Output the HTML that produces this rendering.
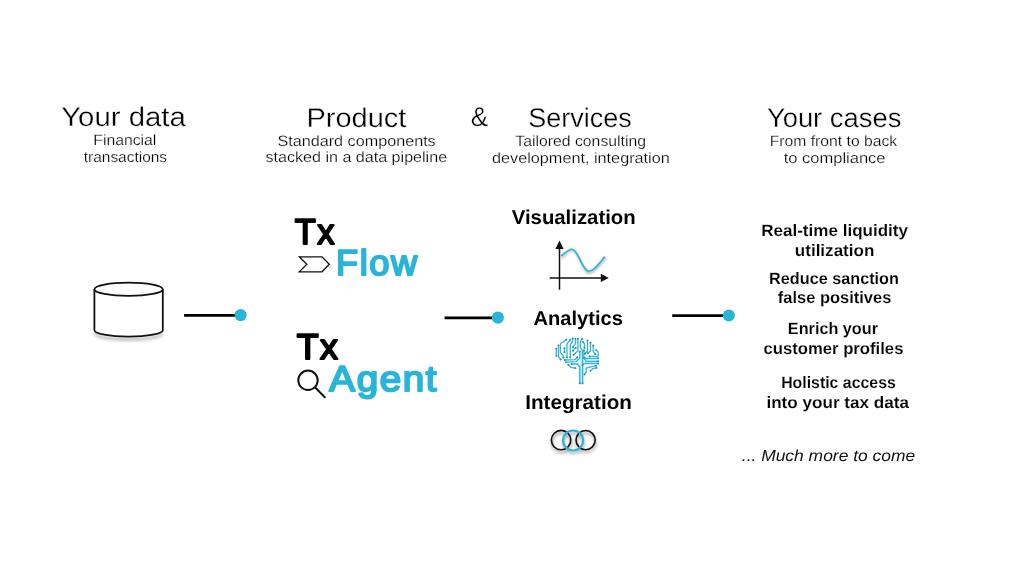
<!DOCTYPE html>
<html><head><meta charset="utf-8"><style>
html,body{margin:0;padding:0;background:#fff;}
body{width:1024px;height:562px;overflow:hidden;}
svg{display:block;will-change:transform;}
text{font-family:"Liberation Sans",sans-serif;text-rendering:geometricPrecision;}
</style></head><body>
<svg width="1024" height="562" viewBox="0 0 1024 562">
<rect width="1024" height="562" fill="#fff"/>
<defs>
<filter id="blur1" x="-30%" y="-50%" width="160%" height="200%"><feGaussianBlur stdDeviation="1.5"/></filter>
<filter id="blur2" x="-30%" y="-50%" width="160%" height="200%"><feGaussianBlur stdDeviation="1"/></filter>
</defs>
<!-- database cylinder -->
<path d="M94.5,331 A34.2,6.5 0 0 0 162.7,331" stroke="#000" stroke-opacity="0.25" stroke-width="3" fill="none" filter="url(#blur1)" transform="translate(0,2.5)"/>
<g stroke="#111" stroke-width="1.8" fill="#fff">
<path d="M94.4,289.2 L94.4,330.2 A34.2,6.4 0 0 0 162.8,330.2 L162.8,289.2" />
<ellipse cx="128.6" cy="289.2" rx="34.2" ry="6.6"/>
</g>
<!-- connector lines -->
<g stroke="#000" stroke-width="2.7">
<line x1="184.1" y1="315.3" x2="238" y2="315.3"/>
<line x1="444.6" y1="317.8" x2="495" y2="317.8"/>
<line x1="672.2" y1="315.6" x2="726" y2="315.6"/>
</g>
<g fill="#29b4d9">
<circle cx="240.6" cy="315.1" r="6.05"/>
<circle cx="497.9" cy="317.6" r="6.05"/>
<circle cx="728.8" cy="315.5" r="6.05"/>
</g>
<!-- chevron -->
<path d="M299.3,256.8 L322,256.8 L329.3,264.3 L322,271.8 L299.3,271.8 L306.8,264.3 Z" fill="#fff" stroke="#111" stroke-width="1.3" stroke-linejoin="miter"/>
<!-- magnifier -->
<g stroke="#111" stroke-width="2" fill="none">
<circle cx="308" cy="380.3" r="9.7"/>
<line x1="315.2" y1="387.5" x2="325.4" y2="397.9"/>
</g>
<!-- chart -->
<path d="M562,258 C566,254 569,249.5 572.5,250 C579,251 582,271 588.4,273 C594,273.5 600,264 606,258" stroke="#000" stroke-opacity="0.3" stroke-width="2" fill="none" filter="url(#blur2)"/>
<g stroke="#111" stroke-width="1.5" fill="none">
<line x1="559.5" y1="247" x2="559.5" y2="289.7"/>
<line x1="549.7" y1="278" x2="602" y2="278"/>
</g>
<path d="M555.4,249 L559.5,240.6 L563.6,249 Z M600.8,273.7 L608.8,277.9 L600.8,282.1 Z" fill="#111"/>
<path d="M561,256.1 C565,253 568.5,249.2 572,249.2 C578,249.2 582,270 588.4,271.1 C594,272 600,262 604.9,256.6" stroke="#29b4d9" stroke-width="1.6" fill="none"/>
<!-- brain -->
<g transform="translate(550,334) scale(0.05469)" fill="none" stroke-linecap="round" stroke-linejoin="round">
<g stroke="#d2eef7" stroke-width="46">
<path d="M545,460 L545,899 M595,460 L595,899 M570,320 L570,899"/>
<path d="M640,450 L880,450 M660,499 L880,499"/>
</g>
<g stroke="#30b6db" stroke-width="24">
<path d="M115,270 L115,400"/>
<path d="M155,210 L155,420 L195,465"/>
<path d="M300,100 L250,140 L205,160 L190,190 L190,340 L240,395 L245,435"/>
<path d="M265,260 L265,335"/>
<path d="M370,105 L310,185 L310,430"/>
<path d="M415,80 L415,130 L370,200 L370,430"/>
<path d="M465,85 L465,180 L420,230 L420,240"/>
<path d="M470,250 L420,305"/>
<path d="M510,85 L510,310 L430,380"/>
<path d="M270,475 L460,470 L500,425"/>
<path d="M290,514 L480,504 L545,440 L545,320"/>
<path d="M395,549 L500,549 L545,600 L545,899"/>
<path d="M335,564 L380,609 L465,624"/>
<path d="M590,90 L555,130 L555,250 L595,300 L595,899"/>
<path d="M600,140 L630,180 L630,255"/>
<path d="M685,120 L685,310 L640,355"/>
<path d="M740,160 L740,310 L690,350"/>
<path d="M790,210 L790,320 L830,370"/>
<path d="M845,295 L880,330 L880,400 L870,410 L720,410"/>
<path d="M620,300 L620,420 L660,450 L880,445"/>
<path d="M620,440 L660,499 L880,499"/>
<path d="M595,570 L620,539 L880,539"/>
<path d="M630,739 L660,709 L660,629 L700,609 L840,579"/>
<path d="M740,674 L780,634 L850,619"/>
</g>
<g fill="#2b8fb0">
<circle cx="115" cy="270" r="18"/><circle cx="115" cy="400" r="18"/><circle cx="155" cy="210" r="18"/><circle cx="195" cy="465" r="18"/><circle cx="300" cy="100" r="18"/><circle cx="245" cy="435" r="18"/><circle cx="265" cy="260" r="18"/><circle cx="265" cy="335" r="18"/><circle cx="370" cy="105" r="18"/><circle cx="310" cy="430" r="18"/><circle cx="415" cy="80" r="18"/><circle cx="370" cy="430" r="18"/><circle cx="465" cy="85" r="18"/><circle cx="420" cy="240" r="18"/><circle cx="470" cy="250" r="18"/><circle cx="420" cy="305" r="18"/><circle cx="510" cy="85" r="18"/><circle cx="430" cy="380" r="18"/><circle cx="270" cy="475" r="18"/><circle cx="500" cy="425" r="18"/><circle cx="290" cy="514" r="18"/><circle cx="545" cy="320" r="18"/><circle cx="395" cy="549" r="18"/><circle cx="545" cy="899" r="18"/><circle cx="335" cy="564" r="18"/><circle cx="465" cy="624" r="18"/><circle cx="590" cy="90" r="18"/><circle cx="595" cy="899" r="18"/><circle cx="600" cy="140" r="18"/><circle cx="630" cy="255" r="18"/><circle cx="685" cy="120" r="18"/><circle cx="640" cy="355" r="18"/><circle cx="740" cy="160" r="18"/><circle cx="690" cy="350" r="18"/><circle cx="790" cy="210" r="18"/><circle cx="830" cy="370" r="18"/><circle cx="845" cy="295" r="18"/><circle cx="720" cy="410" r="18"/><circle cx="620" cy="300" r="18"/><circle cx="880" cy="445" r="18"/><circle cx="620" cy="440" r="18"/><circle cx="880" cy="499" r="18"/><circle cx="595" cy="570" r="18"/><circle cx="880" cy="539" r="18"/><circle cx="630" cy="739" r="18"/><circle cx="840" cy="579" r="18"/><circle cx="740" cy="674" r="18"/><circle cx="850" cy="619" r="18"/>
</g>
</g>
<!-- rings -->
<g fill="none" filter="url(#blur1)" opacity="0.35" transform="translate(0.5,2.5)">
<circle cx="561.1" cy="440.1" r="9.7" stroke="#000" stroke-width="2"/>
<circle cx="585.6" cy="440.1" r="9.6" stroke="#000" stroke-width="2"/>
<circle cx="573.1" cy="440.4" r="10" stroke="#000" stroke-width="2"/>
</g>
<g fill="none">
<circle cx="561.1" cy="440.1" r="9.7" stroke="#111" stroke-width="1.6"/>
<circle cx="585.6" cy="440.1" r="9.6" stroke="#111" stroke-width="1.6"/>
<circle cx="573.1" cy="440.4" r="10" stroke="#29b4d9" stroke-width="2"/>
</g>

<text x="61.22" y="126.30" font-size="27" font-weight="400" font-style="normal" fill="#000" stroke="#fff" stroke-width="0.3" textLength="124.59" lengthAdjust="spacingAndGlyphs">Your data</text>
<text x="306.40" y="126.80" font-size="27" font-weight="400" font-style="normal" fill="#000" stroke="#fff" stroke-width="0.3" textLength="100.02" lengthAdjust="spacingAndGlyphs">Product</text>
<text x="470.68" y="126.00" font-size="27" font-weight="400" font-style="normal" fill="#000" stroke="#fff" stroke-width="0.3" textLength="17.36" lengthAdjust="spacingAndGlyphs">&amp;</text>
<text x="528.36" y="126.80" font-size="27" font-weight="400" font-style="normal" fill="#000" stroke="#fff" stroke-width="0.3" textLength="103.44" lengthAdjust="spacingAndGlyphs">Services</text>
<text x="766.91" y="126.60" font-size="27" font-weight="400" font-style="normal" fill="#000" stroke="#fff" stroke-width="0.3" textLength="134.50" lengthAdjust="spacingAndGlyphs">Your cases</text>
<text x="93.31" y="144.90" font-size="15" font-weight="400" font-style="normal" fill="#000" stroke="#fff" stroke-width="0.22" textLength="63.01" lengthAdjust="spacingAndGlyphs">Financial</text>
<text x="83.74" y="161.70" font-size="15" font-weight="400" font-style="normal" fill="#000" stroke="#fff" stroke-width="0.22" textLength="83.36" lengthAdjust="spacingAndGlyphs">transactions</text>
<text x="277.45" y="145.90" font-size="15" font-weight="400" font-style="normal" fill="#000" stroke="#fff" stroke-width="0.22" textLength="158.28" lengthAdjust="spacingAndGlyphs">Standard components</text>
<text x="265.49" y="162.30" font-size="15" font-weight="400" font-style="normal" fill="#000" stroke="#fff" stroke-width="0.22" textLength="181.62" lengthAdjust="spacingAndGlyphs">stacked in a data pipeline</text>
<text x="515.34" y="145.90" font-size="15" font-weight="400" font-style="normal" fill="#000" stroke="#fff" stroke-width="0.22" textLength="130.66" lengthAdjust="spacingAndGlyphs">Tailored consulting</text>
<text x="492.00" y="162.90" font-size="15" font-weight="400" font-style="normal" fill="#000" stroke="#fff" stroke-width="0.22" textLength="177.77" lengthAdjust="spacingAndGlyphs">development, integration</text>
<text x="769.72" y="145.70" font-size="15" font-weight="400" font-style="normal" fill="#000" stroke="#fff" stroke-width="0.22" textLength="127.51" lengthAdjust="spacingAndGlyphs">From front to back</text>
<text x="783.67" y="162.60" font-size="15" font-weight="400" font-style="normal" fill="#000" stroke="#fff" stroke-width="0.22" textLength="101.92" lengthAdjust="spacingAndGlyphs">to compliance</text>
<text x="294.77" y="243.70" font-size="36" font-weight="400" font-style="normal" fill="#000" stroke="#000" stroke-width="2.0" stroke-linejoin="round" stroke-linecap="round" letter-spacing="1.5" textLength="41.11" lengthAdjust="spacingAndGlyphs">Tx</text>
<text x="336.13" y="275.40" font-size="36" font-weight="400" font-style="normal" fill="#29b4d9" stroke="#29b4d9" stroke-width="2.0" stroke-linejoin="round" stroke-linecap="round" letter-spacing="1.5" textLength="82.43" lengthAdjust="spacingAndGlyphs">Flow</text>
<text x="296.64" y="359.10" font-size="36" font-weight="400" font-style="normal" fill="#000" stroke="#000" stroke-width="2.0" stroke-linejoin="round" stroke-linecap="round" letter-spacing="1.5" textLength="42.79" lengthAdjust="spacingAndGlyphs">Tx</text>
<text x="329.29" y="391.40" font-size="36" font-weight="400" font-style="normal" fill="#29b4d9" stroke="#29b4d9" stroke-width="2.0" stroke-linejoin="round" stroke-linecap="round" letter-spacing="1.5" textLength="108.91" lengthAdjust="spacingAndGlyphs">Agent</text>
<text x="511.74" y="224.40" font-size="20" font-weight="700" font-style="normal" fill="#000" textLength="123.94" lengthAdjust="spacingAndGlyphs">Visualization</text>
<text x="533.56" y="324.60" font-size="20" font-weight="700" font-style="normal" fill="#000" textLength="89.42" lengthAdjust="spacingAndGlyphs">Analytics</text>
<text x="525.29" y="408.60" font-size="20" font-weight="700" font-style="normal" fill="#000" textLength="106.64" lengthAdjust="spacingAndGlyphs">Integration</text>
<text x="761.17" y="236.00" font-size="16.5" font-weight="700" font-style="normal" fill="#000" stroke="#fff" stroke-width="0.12" textLength="146.86" lengthAdjust="spacingAndGlyphs">Real-time liquidity</text>
<text x="794.80" y="256.00" font-size="16.5" font-weight="700" font-style="normal" fill="#000" stroke="#fff" stroke-width="0.12" textLength="79.59" lengthAdjust="spacingAndGlyphs">utilization</text>
<text x="769.11" y="283.80" font-size="16.5" font-weight="700" font-style="normal" fill="#000" stroke="#fff" stroke-width="0.12" textLength="129.83" lengthAdjust="spacingAndGlyphs">Reduce sanction</text>
<text x="777.79" y="303.00" font-size="16.5" font-weight="700" font-style="normal" fill="#000" stroke="#fff" stroke-width="0.12" textLength="113.52" lengthAdjust="spacingAndGlyphs">false positives</text>
<text x="787.85" y="333.90" font-size="16.5" font-weight="700" font-style="normal" fill="#000" stroke="#fff" stroke-width="0.12" textLength="90.11" lengthAdjust="spacingAndGlyphs">Enrich your</text>
<text x="763.46" y="354.00" font-size="16.5" font-weight="700" font-style="normal" fill="#000" stroke="#fff" stroke-width="0.12" textLength="139.99" lengthAdjust="spacingAndGlyphs">customer profiles</text>
<text x="781.16" y="387.70" font-size="16.5" font-weight="700" font-style="normal" fill="#000" stroke="#fff" stroke-width="0.12" textLength="114.63" lengthAdjust="spacingAndGlyphs">Holistic access</text>
<text x="766.40" y="408.30" font-size="16.5" font-weight="700" font-style="normal" fill="#000" stroke="#fff" stroke-width="0.12" textLength="142.59" lengthAdjust="spacingAndGlyphs">into your tax data</text>
<text x="741.81" y="460.60" font-size="16" font-weight="400" font-style="italic" fill="#111" textLength="173.36" lengthAdjust="spacingAndGlyphs">... Much more to come</text>
</svg>
</body></html>
